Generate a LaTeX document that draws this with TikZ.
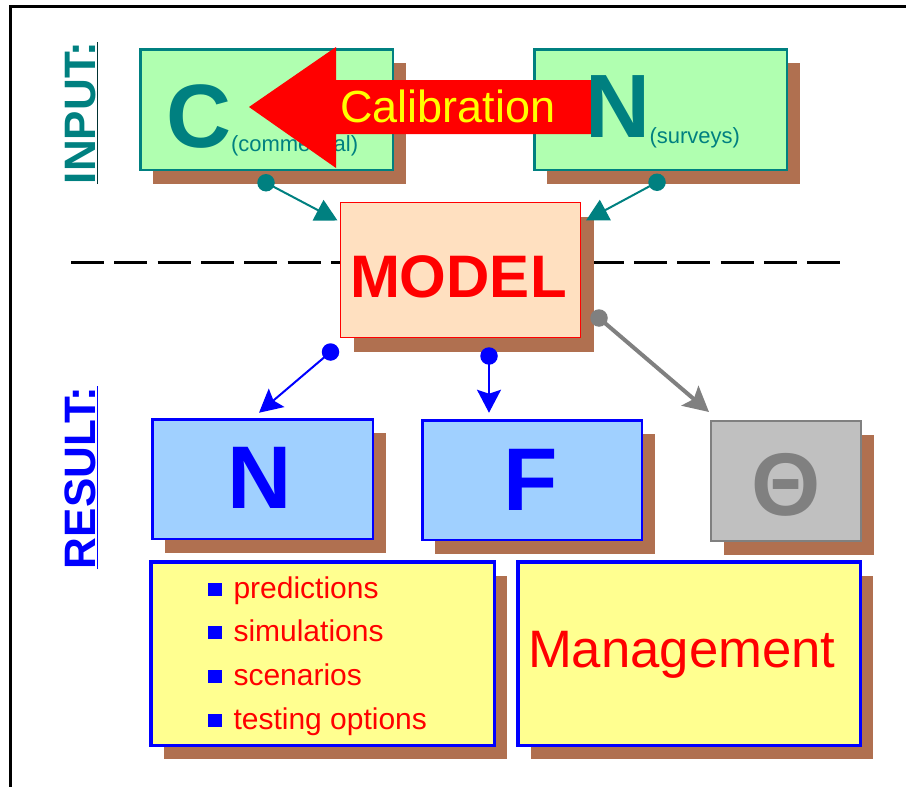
\documentclass[tikz,border=0pt]{standalone}
\usepackage{fontspec}
\setmainfont{Liberation Sans}
\usetikzlibrary{arrows.meta,shadows}
\definecolor{brn}{HTML}{B07050}
\definecolor{lgreen}{HTML}{B0FFB0}
\definecolor{peach}{HTML}{FFE0C0}
\definecolor{lblue}{HTML}{A0D0FF}
\definecolor{lgray}{HTML}{C0C0C0}
\definecolor{lyellow}{HTML}{FFFF90}
\definecolor{midgray}{HTML}{808080}
\definecolor{pureblue}{HTML}{0000FF}
\definecolor{purered}{HTML}{FF0000}
\definecolor{pureyellow}{HTML}{FFFF00}
\newcommand\fsz[1]{\fontsize{#1}{#1}\selectfont}
\begin{document}
\begin{tikzpicture}[x=1pt,y=-1pt,
  card/.style={rectangle, inner sep=0pt, outer sep=0pt,
    drop shadow={shadow xshift=13pt, shadow yshift=-14pt, fill=brn, opacity=1}},
  txt/.style={inner sep=0pt, outer sep=0pt, anchor=base west},
  ctxt/.style={inner sep=0pt, outer sep=0pt, anchor=base},
  dot/.style={circle, inner sep=0pt, minimum size=17.5pt},
  bullet/.style={rectangle, fill=pureblue, inner sep=0pt, minimum width=14pt, minimum height=13pt},
  item/.style={txt, text=purered, font=\fsz{30}},
  tealarrow/.style={teal, line width=2pt, -{Triangle[length=22pt,width=23pt]}},
  bluearrow/.style={pureblue, line width=2pt, -{Stealth[length=23pt,width=24pt,inset=4pt]}},
  grayarrow/.style={midgray, line width=4pt, -{Stealth[length=25pt,width=26pt,inset=5pt]}}
]
\useasboundingbox (0,0) rectangle (906,787);

% frame
\draw[line width=3pt] (10.5,787) -- (10.5,6.5) -- (906,6.5);

% side headings
\node[rotate=90, txt, text=teal, font=\bfseries\fsz{44}] (inputL) at (95,184) {INPUT:};
\draw[line width=1.5pt, teal!40!black] ([shift={(2.5,0)}]inputL.base west) -- ([shift={(2.5,0)}]inputL.base east);
\node[rotate=90, txt, text=pureblue, font=\bfseries\fsz{44}] (resultL) at (95,569) {RESULT:};
\draw[line width=1.5pt, pureblue] ([shift={(2.5,0)}]resultL.base west) -- ([shift={(2.5,0)}]resultL.base east);

% separator between input and result
\coordinate (sepL) at (71,262);
\coordinate (sepR) at (840,262);
\draw[line width=3pt, dash pattern=on 33pt off 10.3pt] (sepL) -- (sepR);

% input cards
\node[card, fill=lgreen, draw=teal, line width=2.5pt, minimum width=252.5pt, minimum height=120.5pt] (cbox) at (266.5,109.5) {};
\node[card, fill=lgreen, draw=teal, line width=2.5pt, minimum width=252.5pt, minimum height=120.5pt] (nbox) at (660.5,109.5) {};
\node[txt, text=teal, font=\bfseries\fsz{90}] (cL) at (166,147) {C};
\node[txt, text=teal, font=\fsz{22}] (cSub) at (231,151) {(commercial)};

% calibration arrow, from N back to C
\fill[purered] (249,107) -- (336,47) -- (336,80) -- (599,80) -- (599,134) -- (336,134) -- (336,168) -- cycle;
\node[txt, text=pureyellow, font=\fsz{45}] (calib) at (340,122) {Calibration};
\node[txt, text=teal, font=\bfseries\fsz{90}] (nL) at (585.5,137) {N};
\node[txt, text=teal, font=\fsz{22}] (nSub) at (649.5,143) {(surveys)};

% model
\node[card, fill=peach, draw=purered, line width=1pt, minimum width=240pt, minimum height=135pt] (model) at (460.5,270) {};
\node[txt, text=purered, font=\bfseries\fsz{60}] (modelL) at (350,297) {MODEL};

% result cards
\node[card, fill=lblue, draw=pureblue, line width=2.5pt, minimum width=220.5pt, minimum height=119.5pt] (nres) at (262.5,479) {};
\node[card, fill=lblue, draw=pureblue, line width=2.5pt, minimum width=219.5pt, minimum height=119.5pt] (fres) at (532,480) {};
\node[card, fill=lgray, draw=midgray, line width=2pt, minimum width=150pt, minimum height=120pt] (tres) at (786,481) {};
\node[ctxt, text=pureblue, font=\bfseries\fsz{89}] (nresL) at (260,508) {N};
\node[txt, text=pureblue, font=\bfseries\fsz{89}] (fresL) at (503,510) {F};
\node[ctxt, text=midgray, font=\bfseries\fsz{89}] (tresL) at (786.5,515) {Θ};

% uses of the results
\node[card, fill=lyellow, draw=pureblue, line width=3.5pt, minimum width=343.5pt, minimum height=183.5pt] (uses) at (322.5,653.5) {};
\node[card, fill=lyellow, draw=pureblue, line width=3.5pt, minimum width=342.5pt, minimum height=183.5pt] (mgmt) at (689,653.5) {};
\node[bullet] (b1) at (215,589) {};
\node[bullet] (b2) at (215,632) {};
\node[bullet] (b3) at (215,676) {};
\node[bullet] (b4) at (215,720) {};
\node[item] (i1) at (233.5,598) {predictions};
\node[item] (i2) at (233.5,641) {simulations};
\node[item] (i3) at (233.5,685) {scenarios};
\node[item] (i4) at (233.5,729) {testing options};
\node[txt, text=purered, font=\fsz{52.7}] (mgmtL) at (528,667) {Management};

% connectors
\coordinate (cOut) at ([shift={(-0.5,13)}]cbox.south);
\coordinate (cIn)  at ([shift={(-3,18)}]model.north west);
\coordinate (nOut) at ([shift={(-3.5,12.5)}]nbox.south);
\coordinate (nIn)  at ([shift={(5.5,18)}]model.north east);
\coordinate (m1)   at ([shift={(-10,14.5)}]model.south west);
\coordinate (m2)   at ([shift={(28.5,18.5)}]model.south);
\coordinate (m3)   at ([shift={(18.5,48)}]model.east);
\coordinate (r1)   at ([shift={(-3.5,-6.5)}]nres.north);
\coordinate (r2)   at ([shift={(-43,-7.5)}]fres.north);
\coordinate (r3)   at ([shift={(-2,-9)}]tres.north west);

\node[dot, fill=teal] (dc) at (cOut) {};
\node[dot, fill=teal] (dn) at (nOut) {};
\node[dot, fill=pureblue] (d1) at (m1) {};
\node[dot, fill=pureblue] (d2) at (m2) {};
\node[dot, fill=midgray] (d3) at (m3) {};
\draw[tealarrow] (dc.center) -- (cIn);
\draw[tealarrow] (dn.center) -- (nIn);
\draw[bluearrow] (d1.center) -- (r1);
\draw[bluearrow] (d2.center) -- (r2);
\draw[grayarrow] (d3.center) -- (r3);
\end{tikzpicture}
\end{document}
